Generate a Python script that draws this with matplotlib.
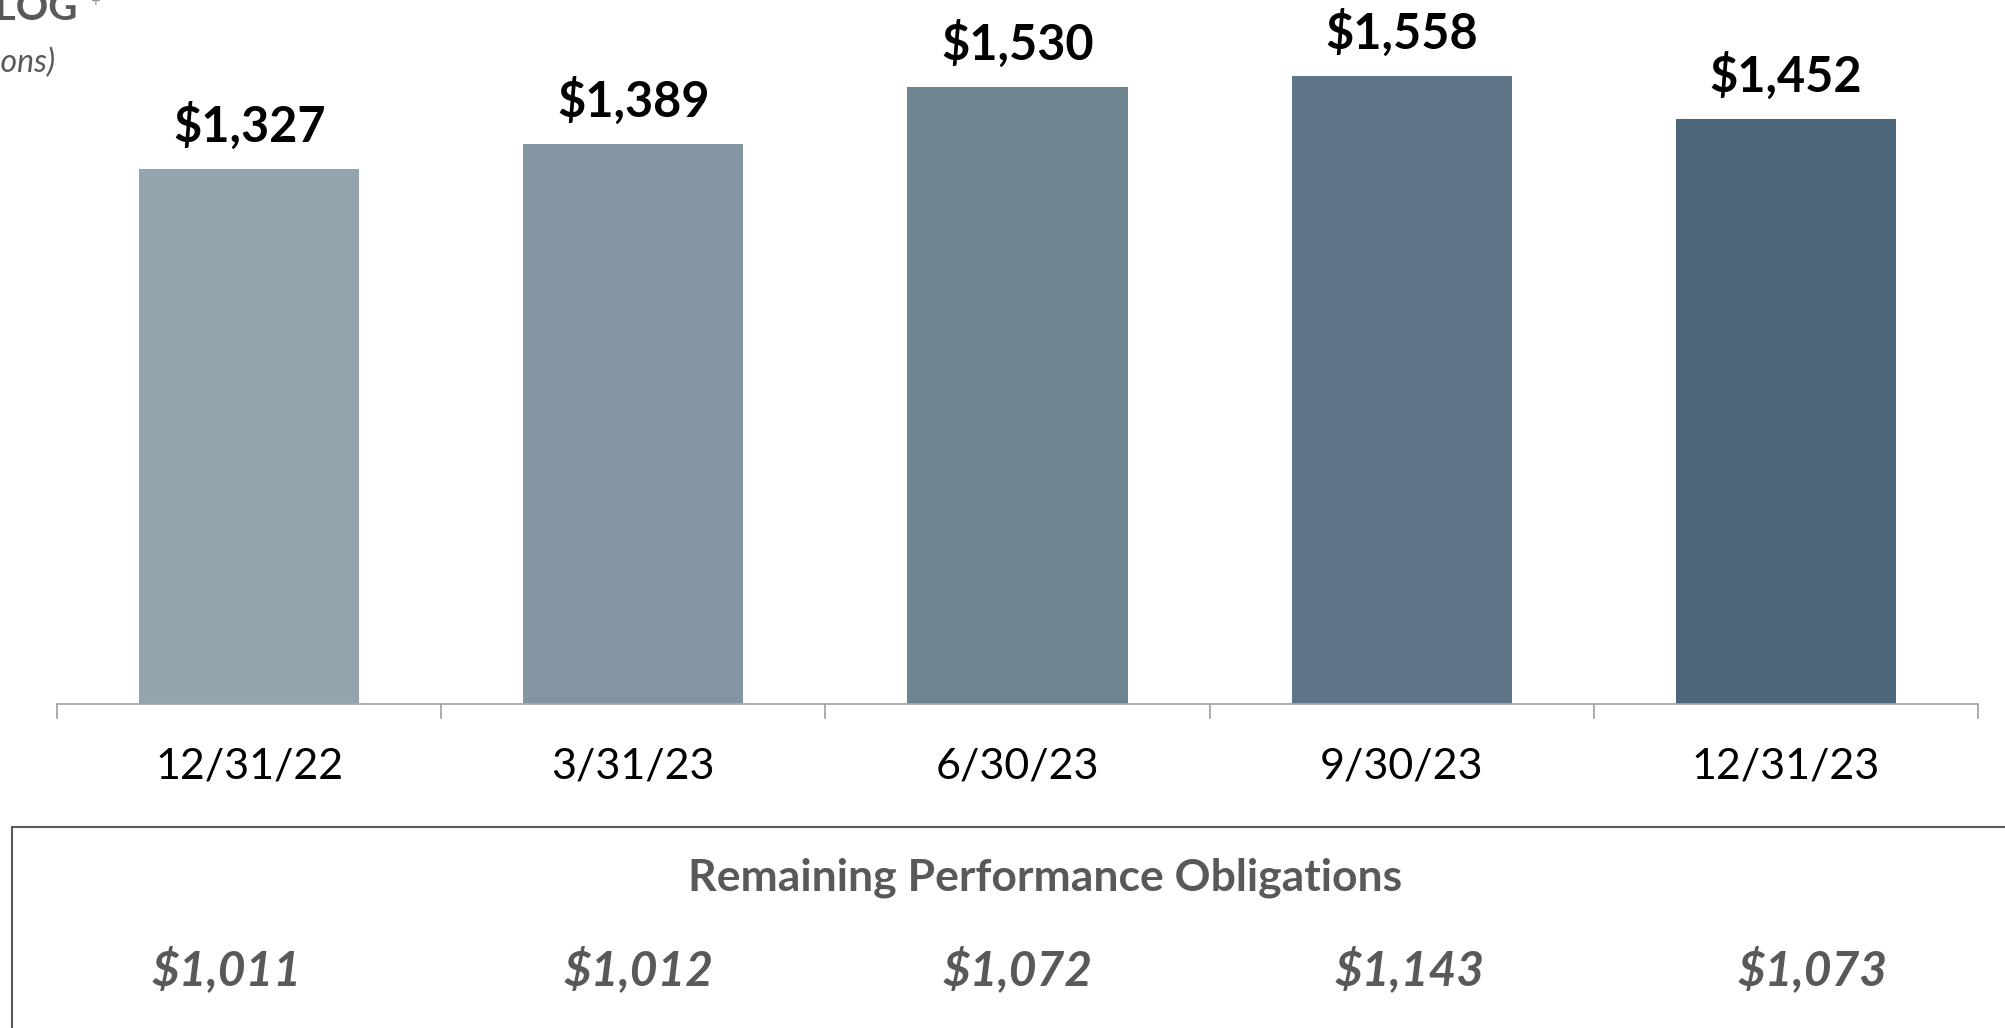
import matplotlib.pyplot as plt
from matplotlib.patches import Rectangle

plt.rcParams['font.family'] = ['Lato', 'DejaVu Sans']

# Data
quarters = ["12/31/22", "3/31/23", "6/30/23", "9/30/23", "12/31/23"]
backlog = [1327, 1389, 1530, 1558, 1452]
rpo = [1011, 1012, 1072, 1143, 1073]

bar_colors = ["#93A4AE", "#8295A1", "#6E8491", "#5E7487", "#4B6779"]
GRAY = "#58595B"

W, H = 2005, 1028
fig = plt.figure(figsize=(W / 100, H / 100), dpi=100)

# axes placed in pixel terms of the reference
ax_left, ax_right, ax_bottom = 57, 1978, 704
ax = fig.add_axes([ax_left / W, 1 - ax_bottom / H, (ax_right - ax_left) / W, ax_bottom / H])

x = range(len(quarters))
ax.bar(x, backlog, width=0.573, color=bar_colors)
ax.set_xlim(-0.5, len(quarters) - 0.5)
ax.set_ylim(0, 1746)

for i, v in enumerate(backlog):
    ax.annotate(f"${v:,}", (i, v), xytext=(0, 27), textcoords="offset pixels",
                ha="center", va="baseline", fontsize=35, fontweight="bold", color="black")

for s in ["top", "left", "right"]:
    ax.spines[s].set_visible(False)
ax.spines["bottom"].set_color("#A6A6A6")
ax.spines["bottom"].set_linewidth(1.3)
ax.set_yticks([])
ax.set_xticks(list(x))
ax.set_xticklabels(quarters, fontsize=31)
ax.tick_params(axis="x", which="major", length=0, pad=31)
ax.set_xticks([i - 0.5 for i in range(len(quarters) + 1)], minor=True)
ax.tick_params(axis="x", which="minor", length=10.8, width=1.3, color="#A6A6A6", direction="out")

# title fragments cut by the left edge
fig.text(78 / W, 1 - 20 / H, "BACKLOG", ha="right", va="baseline",
         fontsize=29, fontweight="bold", color=GRAY)
fig.text(90 / W, 1 - 2 / H, "+", ha="left", va="center", fontsize=12, color="#9A9A9A")
fig.text(55 / W, 1 - 72 / H, "(in millions)", ha="right", va="baseline",
         fontsize=23, style="italic", color=GRAY)

# RPO box
box = Rectangle((12 / W, -0.1), 1.1, (H - 827) / H + 0.1, transform=fig.transFigure,
                fill=False, edgecolor="#595959", linewidth=1.5, clip_on=False)
fig.add_artist(box)
fig.text(1045 / W, 1 - 891 / H, "Remaining Performance Obligations", ha="center",
         va="baseline", fontsize=32, fontweight="bold", color=GRAY)

rpo_x_px = [227, 639, 1018, 1410, 1813]
for px, v in zip(rpo_x_px, rpo):
    fig.text(px / W, 1 - 985 / H, f"${v:,}", ha="center", va="baseline",
             fontsize=34.5, fontweight="bold", style="italic", color=GRAY)

fig.savefig("out.png", dpi=100)
